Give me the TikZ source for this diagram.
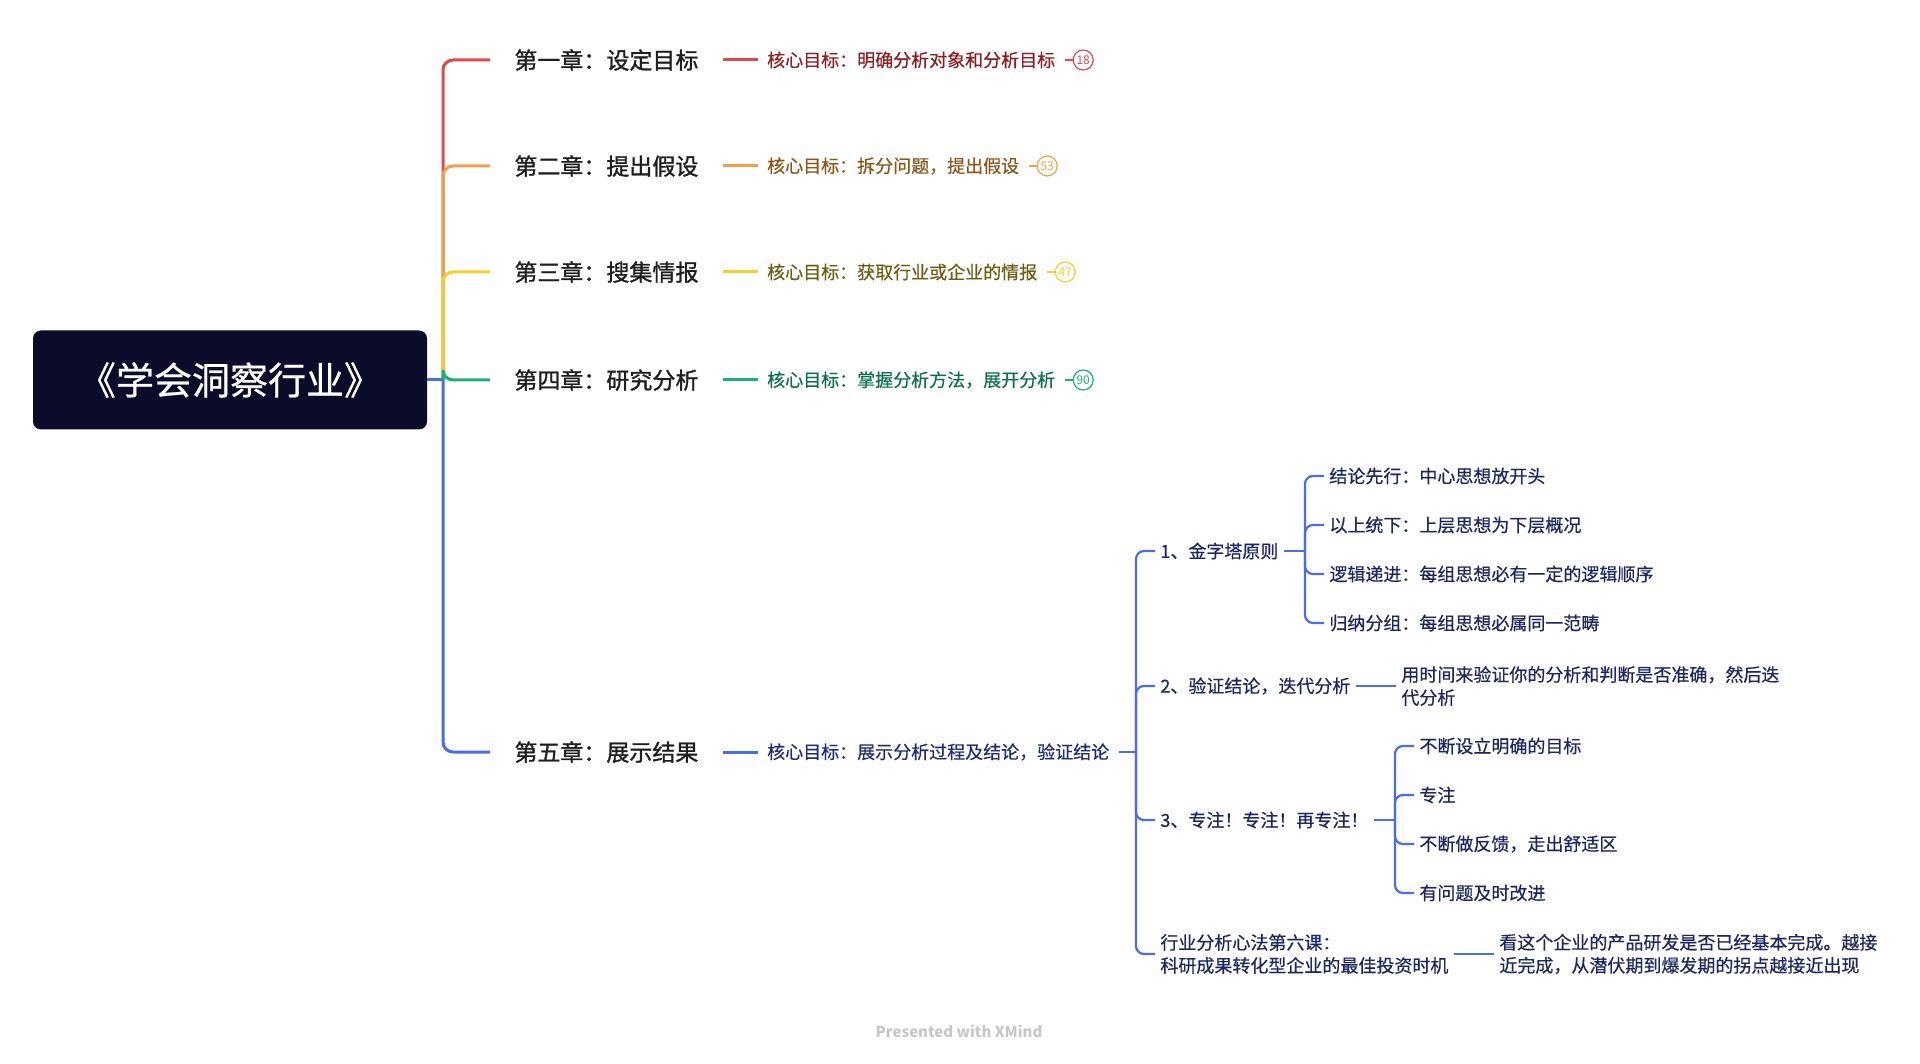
\documentclass[tikz,border=0pt]{standalone}
\usepackage{fontspec}
\setmainfont{Noto Sans CJK SC}
\newfontfamily\medfont[FakeBold=1.2]{Noto Sans CJK SC}
\newfontfamily\semifont[FakeBold=0.5]{Noto Sans CJK SC}
\usetikzlibrary{positioning}

\definecolor{rootbg}{HTML}{0B0B2A}
\definecolor{cred}{HTML}{E2474B}
\definecolor{corange}{HTML}{F0A04B}
\definecolor{cyellow}{HTML}{F4CF32}
\definecolor{cgreen}{HTML}{1EAF79}
\definecolor{cblue}{HTML}{4A6CE6}
\definecolor{tred}{HTML}{8E1E22}
\definecolor{torange}{HTML}{8A561C}
\definecolor{tyellow}{HTML}{6E5C12}
\definecolor{tgreen}{HTML}{0F6F50}
\definecolor{tblue}{HTML}{1F2E7A}
\definecolor{tleaf}{HTML}{1C2660}

\begin{document}
\begin{tikzpicture}[x=1pt, y=-1pt, thick,
    chap/.style={anchor=west, inner xsep=24pt, inner ysep=2pt, text=black!88,
        font=\medfont\fontsize{23pt}{27pt}\selectfont},
    goal/.style={inner xsep=9pt, inner ysep=2pt, font=\semifont\fontsize{18pt}{22pt}\selectfont},
    badge/.style={circle, draw, line width=1.2pt, inner sep=0pt, minimum size=20pt,
        font=\fontsize{12pt}{12pt}\selectfont},
    sub/.style={anchor=west, inner xsep=5pt, inner ysep=2pt, align=left, text=tleaf,
        font=\semifont\fontsize{18pt}{23pt}\selectfont},
    branch/.style={line width=3pt, rounded corners=10pt},
    twig/.style={line width=2.2pt, rounded corners=8pt, cblue}]

    \useasboundingbox (0,0) rectangle (1920,1064);

    % nodo centrale
    \node[fill=rootbg, rounded corners=8pt, minimum width=394pt, minimum height=99pt,
        text=white, font=\semifont\fontsize{38pt}{42pt}\selectfont] (root) at (230,380) {《学会洞察行业》};
    \coordinate (hub) at (443,380);

    % capitoli
    \node[chap] (c1) at (490,60)  {第一章：设定目标};
    \node[chap] (c2) at (490,166) {第二章：提出假设};
    \node[chap] (c3) at (490,272) {第三章：搜集情报};
    \node[chap] (c4) at (490,380) {第四章：研究分析};
    \node[chap] (c5) at (490,752) {第五章：展示结果};

    % obiettivi
    \node[goal, text=tred,    right=35pt of c1] (g1) {核心目标：明确分析对象和分析目标};
    \node[goal, text=torange, right=35pt of c2] (g2) {核心目标：拆分问题，提出假设};
    \node[goal, text=tyellow, right=35pt of c3] (g3) {核心目标：获取行业或企业的情报};
    \node[goal, text=tgreen,  right=35pt of c4] (g4) {核心目标：掌握分析方法，展开分析};
    \node[goal, text=tblue,   right=35pt of c5] (g5) {核心目标：展示分析过程及结论，验证结论};

    \node[badge, cred,    right=8pt of g1] (b1) {18};
    \node[badge, corange, right=8pt of g2] (b2) {53};
    \node[badge, cyellow, right=8pt of g3] (b3) {47};
    \node[badge, cgreen,  right=8pt of g4] (b4) {90};

    % rami principali
    \draw[branch, cred]    (hub) |- (c1.west);
    \draw[branch, corange] (hub) |- (c2.west);
    \draw[branch, cyellow] (hub) |- (c3.west);
    \draw[branch, cgreen]  (hub) |- (c4.west);
    \draw[branch, cblue]   (hub) |- (c5.west);
    \draw[line width=3pt, cblue] (root.east) -- (hub);

    \draw[line width=3pt, cred]    (c1.east) -- (g1.west);
    \draw[line width=3pt, corange] (c2.east) -- (g2.west);
    \draw[line width=3pt, cyellow] (c3.east) -- (g3.west);
    \draw[line width=3pt, cgreen]  (c4.east) -- (g4.west);
    \draw[line width=3pt, cblue]   (c5.east) -- (g5.west);

    \draw[line width=1.5pt, cred]    (g1.east) -- (b1.west);
    \draw[line width=1.5pt, corange] (g2.east) -- (b2.west);
    \draw[line width=1.5pt, cyellow] (g3.east) -- (b3.west);
    \draw[line width=1.5pt, cgreen]  (g4.east) -- (b4.west);

    % sottoalbero del quinto capitolo
    \coordinate (j5) at (1136,752);
    \node[sub] (s1) at (1155,551) {1、金字塔原则};
    \node[sub] (s2) at (1155,686) {2、验证结论，迭代分析};
    \node[sub] (s3) at (1155,820) {3、专注！专注！再专注！};
    \node[sub] (s4) at (1155,954) {行业分析心法第六课：\\科研成果转化型企业的最佳投资时机};

    \draw[twig] (g5.east) -- (j5);
    \foreach \s in {s1,s2,s3,s4}
        \draw[twig] (j5) |- (\s.west);

    % principio della piramide
    \coordinate (j1) at (1305,551);
    \node[sub] (t11) at (1324,476) {结论先行：中心思想放开头};
    \node[sub] (t12) at (1324,525) {以上统下：上层思想为下层概况};
    \node[sub] (t13) at (1324,574) {逻辑递进：每组思想必有一定的逻辑顺序};
    \node[sub] (t14) at (1324,623) {归纳分组：每组思想必属同一范畴};
    \draw[twig] (s1.east) -- (j1);
    \foreach \t in {t11,t12,t13,t14}
        \draw[twig] (j1) |- (\t.west);

    % verifica
    \node[sub] (d2) at (1396,686) {用时间来验证你的分析和判断是否准确，然后迭\\代分析};
    \draw[twig] (s2.east) -- (d2.west);

    % concentrazione
    \coordinate (j3) at (1395,820);
    \node[sub] (t31) at (1414,746) {不断设立明确的目标};
    \node[sub] (t32) at (1414,795) {专注};
    \node[sub] (t33) at (1414,844) {不断做反馈，走出舒适区};
    \node[sub] (t34) at (1414,893) {有问题及时改进};
    \draw[twig] (s3.east) -- (j3);
    \foreach \t in {t31,t32,t33,t34}
        \draw[twig] (j3) |- (\t.west);

    % sesta lezione
    \node[sub] (d4) at (1494,954) {看这个企业的产品研发是否已经基本完成。越接\\近完成，从潜伏期到爆发期的拐点越接近出现};
    \draw[twig] (s4.east) -- (d4.west);

    % filigrana
    \node[text=black!22, font=\fontsize{15pt}{18pt}\selectfont\bfseries] (wm) at (959,1031) {Presented with XMind};

\end{tikzpicture}
\end{document}
